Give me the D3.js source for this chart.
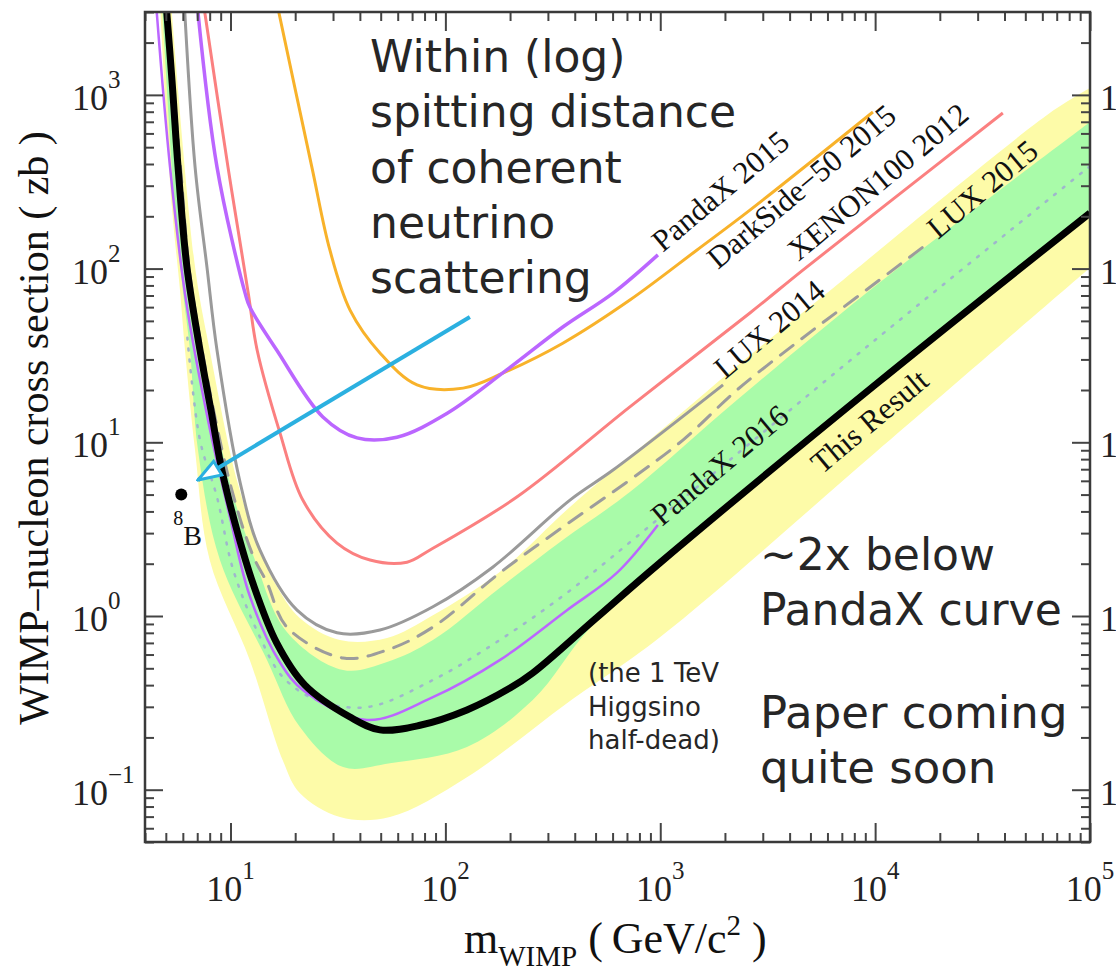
<!DOCTYPE html>
<html>
<head>
<meta charset="utf-8">
<script src="https://cdn.jsdelivr.net/npm/d3@7"></script>
<style>
  body { margin: 0; background: #fff; }
  svg { display: block; }
</style>
</head>
<body>
<script>
/* WIMP-nucleon limit plot.
   mass in GeV/c^2, cross section in zb */

// this result (thick black)
var resultM = [5.0, 5.34, 5.70, 6.27, 7.21, 8.11, 9.12, 10.7, 12.7, 16.4, 22.2, 36, 49.6, 76.2, 126, 200, 255, 497, 995, 10000, 100000];
var resultS = [3500, 1218, 385, 102, 34, 15.3, 6.9, 3.13, 1.55, 0.70, 0.40, 0.262, 0.221, 0.235, 0.288, 0.385, 0.47, 0.96, 2.02, 21.4, 209];

// expected sensitivity (dotted)
var medianM = [6.3, 7.21, 8.65, 10.3, 13.7, 17.5, 25.2, 43.2, 87.5, 179, 368, 1000, 10000, 100000];
var medianS = [40, 10.3, 4.84, 1.84, 0.757, 0.446, 0.328, 0.299, 0.428, 0.727, 1.36, 3.7, 38.8, 389];

// 2 sigma band (yellow)
var band2UpM = [5.3, 6.84, 8.0, 10.8, 14.0, 16.1, 21.0, 32.3, 53.5, 87.5, 179, 380, 1000, 2275, 5970, 65000, 100000];
var band2UpS = [3300, 102, 34, 5.83, 2.24, 1.55, 0.973, 0.727, 0.747, 1.01, 1.79, 4.24, 11.6, 27.5, 72.3, 786, 1095];
var band2LoM = [4.7, 5.34, 5.82, 6.14, 6.84, 8.0, 12.3, 17.5, 21.0, 32.3, 55.2, 126, 368, 1000, 10000, 100000];
var band2LoS = [3300, 226, 75, 34, 9.0, 2.10, 0.557, 0.148, 0.0957, 0.0697, 0.0697, 0.118, 0.315, 0.757, 8.7, 101];

// 1 sigma band (green)
var band1UpM = [5.12, 6.48, 7.45, 9.94, 13.0, 18.3, 33.4, 53.5, 87.5, 179, 352, 722, 2275, 10860, 100000];
var band1UpS = [3300, 102, 34, 5.83, 2.10, 0.81, 0.489, 0.543, 0.727, 1.45, 2.74, 5.17, 17.5, 85.9, 698];
var band1LoM = [4.8, 5.5, 6.0, 6.48, 7.06, 8.93, 14.8, 21.0, 33.4, 55.2, 126, 255, 471, 1000, 10000, 100000];
var band1LoS = [3300, 226, 75, 34, 9.0, 2.10, 0.557, 0.23, 0.135, 0.142, 0.176, 0.328, 0.853, 1.95, 21, 205];

// other experiments
var lux2015M = [5.01, 5.85, 6.41, 7.37, 9.94, 12.7, 14.8, 18.3, 33.4, 53.5, 87.5, 179, 352, 722, 1275, 2275, 4470, 8230, 16700];
var lux2015S = [3300, 385, 102, 34, 5.83, 2.24, 1.55, 0.863, 0.573, 0.637, 0.863, 1.77, 3.25, 6.07, 10.3, 20.0, 38.8, 68.6, 133];

var lux2014M = [6.1, 6.84, 7.77, 8.65, 11.1, 13.7, 20.4, 31.3, 49.6, 87.5, 166, 380, 603, 1960];
var lux2014S = [3300, 385, 102, 34, 5.83, 2.40, 1.08, 0.80, 0.83, 1.13, 1.91, 4.65, 6.92, 21.4];

var xenonM = [7.5, 9.73, 12.1, 13.3, 17.0, 21.7, 31.3, 44.6, 66.3, 84.8, 215, 722, 2614, 4610, 10860, 39300];
var xenonS = [3300, 385, 72, 34, 11.3, 4.65, 2.63, 2.10, 2.04, 2.40, 4.84, 16.0, 55.5, 98, 226, 786];

var darksideM = [16.5, 23.9, 29.0, 36.0, 49.6, 73.8, 121, 185, 352, 722, 1483, 2614, 9770];
var darksideS = [3300, 385, 128, 57.7, 32.7, 21.4, 20.5, 25.0, 37.2, 65.9, 128, 217, 797];

var pandax2015M = [7.0, 8.65, 11.7, 12.3, 16.4, 26.9, 38.8, 59.5, 102, 193, 352, 603, 975];
var pandax2015S = [3300, 385, 72, 60, 34, 14.0, 10.6, 10.7, 14.7, 26.1, 46.1, 72.3, 120];

var pandax2016M = [4.5, 5.23, 6.2, 7.9, 10, 12.3, 17.0, 22, 43.2, 87.5, 179, 368, 628, 975];
var pandax2016S = [3400, 385, 66, 13, 3.6, 1.3, 0.54, 0.37, 0.252, 0.341, 0.557, 1.08, 1.77, 3.34];

// curve labels, placed at their start (mass, cross section)
var labelNames = ["PandaX 2015", "DarkSide\u221250 2015", "XENON100 2012", "LUX 2014", "LUX 2015", "PandaX 2016", "This Result"];
var labelM = [1028, 1855, 4400, 2000, 19600, 1018, 5650];
var labelS = [123, 98, 109, 22.8, 146, 3.25, 6.48];

// 8B neutrino point and the arrow pointing at it
var boronM = 5.9, boronS = 5.0;
var arrowM = [130, 7.06];
var arrowS = [52.6, 6.07];

// tick exponents
var xTickExp = [1, 2, 3, 4, 5];
var yTickExp = [-1, 0, 1, 2, 3];

var width = 1116,
    height = 969;
var plot = { left: 145, right: 1090, top: 12, bottom: 842 };

var serif = "'Liberation Serif', 'Times New Roman', serif";
var sans = "'DejaVu Sans', sans-serif";

var x = d3.scaleLog().domain([4, 1e5]).range([plot.left, plot.right]);
var y = d3.scaleLog().domain([0.05, 3000]).range([plot.bottom, plot.top]);

var svg = d3.select("body").append("svg")
  .attr("width", width)
  .attr("height", height);

var defs = svg.append("defs");
defs.append("clipPath").attr("id", "clip")
  .append("rect")
  .attr("x", plot.left).attr("y", plot.top)
  .attr("width", plot.right - plot.left)
  .attr("height", plot.bottom - plot.top);

defs.append("marker")
    .attr("id", "head")
    .attr("viewBox", "0 -10 28 20")
    .attr("refX", 26)
    .attr("refY", 0)
    .attr("markerUnits", "userSpaceOnUse")
    .attr("markerWidth", 28)
    .attr("markerHeight", 20)
    .attr("orient", "auto")
  .append("path")
    .attr("d", "M26,0L3,-8L3,8Z")
    .style("fill", "#fff")
    .style("stroke", "#2bb0e0")
    .style("stroke-width", 3)
    .style("stroke-linejoin", "miter");

function zip(ms, ss) {
  return ms.map(function(m, i) { return [m, ss[i]]; });
}

var line = d3.line()
  .x(function(d) { return x(d[0]); })
  .y(function(d) { return y(d[1]); })
  .curve(d3.curveCatmullRom);

// band = upper edge left->right, then lower edge right->left
function band(upM, upS, loM, loS) {
  var up = line(zip(upM, upS));
  var lo = line(zip(loM, loS).reverse());
  return up + "L" + lo.slice(1) + "Z";
}

var g = svg.append("g").attr("clip-path", "url(#clip)");

g.append("path")
  .attr("d", band(band2UpM, band2UpS, band2LoM, band2LoS))
  .style("fill", "#fdfba8");

g.append("path")
  .attr("d", band(band1UpM, band1UpS, band1LoM, band1LoS))
  .style("fill", "#a9fba9");

var curves = [
  { m: medianM, s: medianS, color: "#9fb6cc", w: 2.5, dash: "2,9" },
  { m: lux2015M, s: lux2015S, color: "#9c9c9c", w: 3, dash: "16,11" },
  { m: lux2014M, s: lux2014S, color: "#9a9a9a", w: 3 },
  { m: xenonM, s: xenonS, color: "#fb8080", w: 3 },
  { m: darksideM, s: darksideS, color: "#f8b22a", w: 3 },
  { m: pandax2015M, s: pandax2015S, color: "#bb66ff", w: 3.5 },
  { m: pandax2016M, s: pandax2016S, color: "#bb66ff", w: 2.5 },
  { m: resultM, s: resultS, color: "#000", w: 7 }
];

g.selectAll("path.curve")
  .data(curves)
  .enter().append("path")
  .attr("class", "curve")
  .attr("d", function(d) { return line(zip(d.m, d.s)); })
  .style("fill", "none")
  .style("stroke", function(d) { return d.color; })
  .style("stroke-width", function(d) { return d.w; })
  .style("stroke-dasharray", function(d) { return d.dash || null; })
  .style("stroke-linecap", function(d) { return d.dash ? "round" : "butt"; });

// rotated curve labels
svg.selectAll("text.series")
  .data(labelNames)
  .enter().append("text")
  .attr("class", "series")
  .attr("transform", function(d, i) {
    return "translate(" + x(labelM[i]) + "," + y(labelS[i]) + ") rotate(-40)";
  })
  .style("font-family", serif)
  .style("font-size", "31px")
  .style("fill", "#111")
  .text(function(d) { return d; });

// arrow
svg.append("path")
  .attr("d", "M" + x(arrowM[0]) + "," + y(arrowS[0]) + "L" + x(arrowM[1]) + "," + y(arrowS[1]))
  .style("stroke", "#2bb0e0")
  .style("stroke-width", 4)
  .style("fill", "none")
  .attr("marker-end", "url(#head)");

// 8B point
svg.append("circle")
  .attr("cx", x(boronM))
  .attr("cy", y(boronS))
  .attr("r", 6)
  .style("fill", "#000");

var bLabel = svg.append("text")
  .attr("x", x(boronM) - 8)
  .attr("y", y(boronS) + 50)
  .style("font-family", serif)
  .style("fill", "#111");
bLabel.append("tspan").style("font-size", "20px").attr("dy", -20).text("8");
bLabel.append("tspan").style("font-size", "28px").attr("dy", 20).text("B");

// annotation text blocks
function block(lines, x0, y0, step, size) {
  svg.append("g").selectAll("text")
    .data(lines)
    .enter().append("text")
    .attr("x", x0)
    .attr("y", function(d, i) { return y0 + i * step; })
    .style("font-family", sans)
    .style("font-size", size + "px")
    .style("fill", "#262626")
    .text(function(d) { return d; });
}

block(["Within (log)", "spitting distance", "of coherent", "neutrino", "scattering"], 370, 72, 55.3, 44);
block(["~2x below", "PandaX curve"], 760, 570, 55, 44);
block(["Paper coming", "quite soon"], 760, 728, 55, 45);
block(["(the 1 TeV", "Higgsino", "half-dead)"], 588, 682, 33.5, 26);

// ticks on all four sides, pointing inward
var xMajor = xTickExp.map(function(e) { return Math.pow(10, e); });
var yMajor = yTickExp.map(function(e) { return Math.pow(10, e); });
var xMinor = [], yMinor = [];
for (var e = 0; e <= 4; e++) {
  for (var k = 2; k <= 9; k++) {
    var v = k * Math.pow(10, e);
    if (v >= 4 && v < 1e5) xMinor.push(v);
  }
}
for (var e2 = -2; e2 <= 3; e2++) {
  for (var k2 = 2; k2 <= 9; k2++) {
    var v2 = k2 * Math.pow(10, e2);
    if (v2 >= 0.05 && v2 <= 3000) yMinor.push(v2);
  }
}

function ticks(axis, values, size, tx, ty) {
  var a = svg.append("g")
    .attr("transform", "translate(" + tx + "," + ty + ")")
    .call(axis.tickValues(values).tickSize(-size).tickFormat(""));
  a.select(".domain").remove();
  a.selectAll("line").style("stroke", "#444").style("stroke-width", 2);
}

ticks(d3.axisBottom(x), xMajor, 19, 0, plot.bottom);
ticks(d3.axisBottom(x), xMinor, 9, 0, plot.bottom);
ticks(d3.axisTop(x), xMajor, 19, 0, plot.top);
ticks(d3.axisTop(x), xMinor, 9, 0, plot.top);
ticks(d3.axisLeft(y), yMajor, 18, plot.left, 0);
ticks(d3.axisLeft(y), yMinor, 9, plot.left, 0);
ticks(d3.axisRight(y), yMajor, 18, plot.right, 0);
ticks(d3.axisRight(y), yMinor, 9, plot.right, 0);

// frame
svg.append("rect")
  .attr("x", plot.left).attr("y", plot.top)
  .attr("width", plot.right - plot.left)
  .attr("height", plot.bottom - plot.top)
  .style("fill", "none")
  .style("stroke", "#3a3a3a")
  .style("stroke-width", 2.5);

function power(sel, e) {
  sel.append("tspan").text("10");
  sel.append("tspan")
    .attr("dy", -22)
    .style("font-size", "25px")
    .text(e < 0 ? "\u2212" + (-e) : String(e));
}

// x tick labels
svg.append("g").selectAll("text")
  .data(xTickExp)
  .enter().append("text")
  .attr("x", function(d) { return x(Math.pow(10, d)); })
  .attr("y", 901)
  .attr("text-anchor", "middle")
  .style("font-family", serif)
  .style("font-size", "36px")
  .style("fill", "#222")
  .each(function(d) { power(d3.select(this), d); });

// y tick labels, left and right (right ones run off the page)
[72, 1100].forEach(function(x0) {
  svg.append("g").selectAll("text")
    .data(yTickExp)
    .enter().append("text")
    .attr("x", x0)
    .attr("y", function(d) { return y(Math.pow(10, d)) + 15; })
    .style("font-family", serif)
    .style("font-size", "36px")
    .style("fill", "#222")
    .each(function(d) { power(d3.select(this), d); });
});

// axis titles
var xt = svg.append("text")
  .attr("x", 464)
  .attr("y", 953)
  .style("font-family", serif)
  .style("font-size", "44px")
  .style("fill", "#111");
xt.append("tspan").text("m");
xt.append("tspan").attr("dy", 13).style("font-size", "29px").text("WIMP");
xt.append("tspan").attr("dy", -13).text(" (\u2009GeV/c");
xt.append("tspan").attr("dy", -18).style("font-size", "29px").text("2");
xt.append("tspan").attr("dy", 18).text(" )");

svg.append("text")
  .attr("transform", "translate(48,428) rotate(-90)")
  .attr("text-anchor", "middle")
  .style("font-family", serif)
  .style("font-size", "42px")
  .style("fill", "#111")
  .text("WIMP\u2013nucleon cross section ( zb )");
</script>
</body>
</html>
